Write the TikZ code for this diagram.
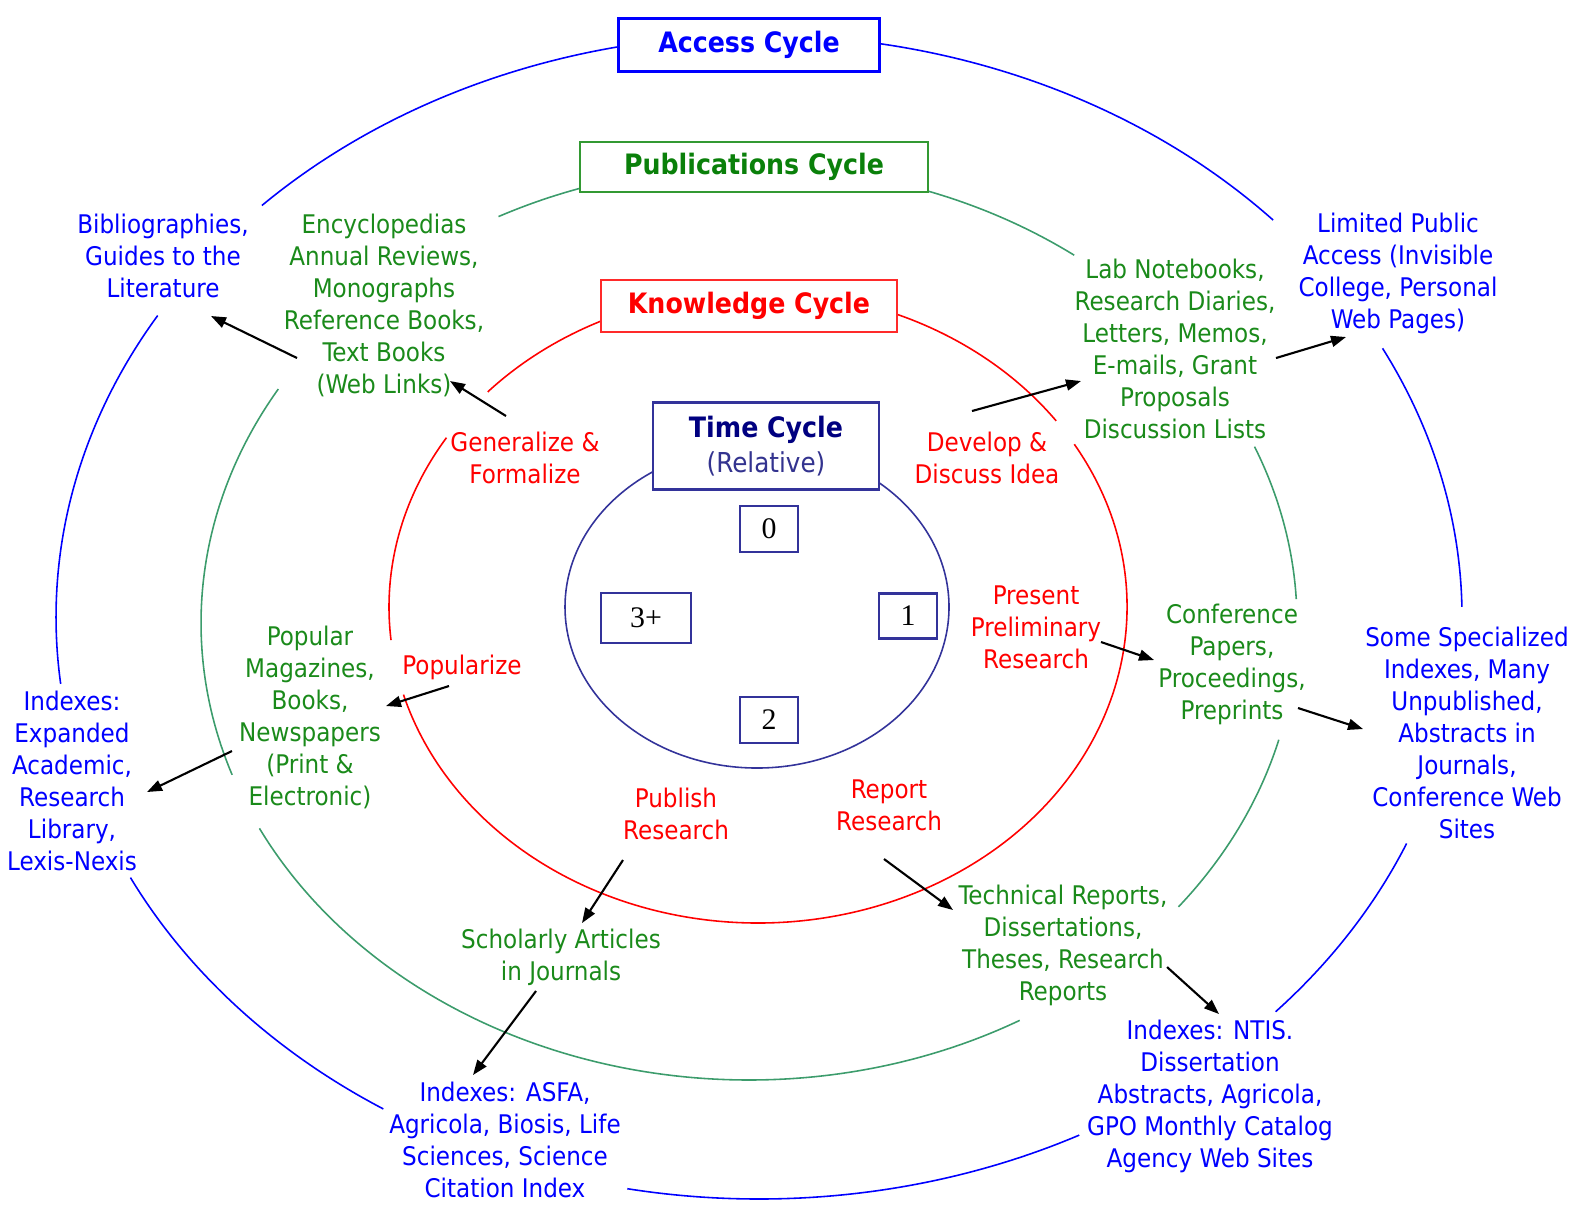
\documentclass[tikz,border=0pt]{standalone}
\usepackage{fontspec}
\setmainfont{DejaVu Sans Condensed}
\newfontfamily\numfont{Liberation Serif}
\usetikzlibrary{arrows.meta}
\definecolor{accblue}{HTML}{0000FF}
\definecolor{pubgreen}{HTML}{1A8A1A}
\definecolor{pubhead}{HTML}{0A800A}
\definecolor{publine}{HTML}{3C9C6C}
\definecolor{pubbox}{HTML}{339933}
\definecolor{knowred}{HTML}{FF0000}
\definecolor{knowline}{HTML}{FF2A2A}
\definecolor{timenavy}{HTML}{000080}
\definecolor{timerel}{HTML}{33338F}
\definecolor{timeline}{HTML}{33339A}
\tikzset{
  ring/.style={line width=0.45pt},
  accring/.style={ring,draw=accblue},
  pubring/.style={ring,draw=publine},
  knowring/.style={ring,draw=knowred},
  timering/.style={ring,draw=timeline},
  cyclebox/.style={fill=white,line width=0.6pt,inner sep=0pt,font=\fontsize{8}{10}\bfseries},
  numbox/.style={draw=timeline,fill=white,line width=0.6pt,inner sep=0pt,font=\numfont\fontsize{8.5}{10}\selectfont},
  txt/.style={align=center,inner sep=1pt,font=\fontsize{7.3}{9.1}\selectfont},
  btxt/.style={txt,text=accblue},
  gtxt/.style={txt,text=pubgreen},
  rtxt/.style={txt,text=knowred},
  arr/.style={black,line width=0.6pt,-{Triangle[length=1.5mm,width=1.1mm]}},
}
\begin{document}
\begin{tikzpicture}[x=0.1mm,y=-0.1mm]
  \useasboundingbox (0,0) rectangle (1587,1204);
  % ---------- rings ----------
  \foreach \a/\b in {225/317,332.5/359,22.9/42.7,62.9/100.8,122.3/153.4,173.4/211.2}
    \draw[accring] (759,617) ++(\a:703 and 582) arc[start angle=\a,end angle=\b,x radius=703,y radius=582];
  \foreach \a/\b in {242.8/306.4,337.3/357,14.8/38.4,60.4/153.3,160.6/210.8}
    \draw[pubring] (749,623) ++(\a:548 and 457) arc[start angle=\a,end angle=\b,x radius=548,y radius=457];
  \foreach \a/\b in {222.9/323.9,329/523.9,174/212.4}
    \draw[knowring] (758,607) ++(\a:369 and 316) arc[start angle=\a,end angle=\b,x radius=369,y radius=316];
  \draw[timering] (757,607) ellipse[x radius=192,y radius=161];
  % ---------- cycle boxes ----------
  \node[cyclebox,draw=accblue,text=accblue,minimum width=26.1mm,minimum height=5.3mm] (acc) at (749,45) {Access Cycle};
  \node[cyclebox,draw=pubbox,text=pubhead,minimum width=34.8mm,minimum height=5.0mm] (pubc) at (754,167) {Publications Cycle};
  \node[cyclebox,draw=knowline,text=knowred,minimum width=29.6mm,minimum height=5.2mm] (know) at (749,306) {Knowledge Cycle};
  \node[cyclebox,draw=timeline,minimum width=22.6mm,minimum height=8.7mm,align=center,font=\fontsize{7.8}{10}\selectfont] (time) at (766,446)
    {\textcolor{timenavy}{\bfseries\fontsize{8}{10}\selectfont Time Cycle}\\\textcolor{timerel}{(Relative)}};
  \node[numbox,minimum width=5.8mm,minimum height=4.6mm] (t0) at (769,529) {0};
  \node[numbox,minimum width=9.0mm,minimum height=5.0mm] (t3) at (646,618) {3+};
  \node[numbox,minimum width=5.8mm,minimum height=4.5mm] (t1) at (908,616) {1};
  \node[numbox,minimum width=5.8mm,minimum height=4.6mm] (t2) at (769,720) {2};
  % ---------- access ----------
  \node[btxt] (bib) at (163,256) {Bibliographies,\\Guides to the\\Literature};
  \node[btxt] (lim) at (1398,273) {Limited Public\\Access (Invisible\\College, Personal\\Web Pages)};
  \node[btxt] (idxe) at (72,781) {Indexes:\\Expanded\\Academic,\\Research\\Library,\\Lexis-Nexis};
  \node[btxt] (spec) at (1467,733) {Some Specialized\\Indexes, Many\\Unpublished,\\Abstracts in\\Journals,\\Conference Web\\Sites};
  \node[btxt] (asfa) at (505,1140) {Indexes: ASFA,\\Agricola, Biosis, Life\\Sciences, Science\\Citation Index};
  \node[btxt] (ntis) at (1210,1096) {Indexes: NTIS.\\Dissertation\\Abstracts, Agricola,\\GPO Monthly Catalog\\Agency Web Sites};
  % ---------- publications ----------
  \node[gtxt] (enc) at (384,305) {Encyclopedias\\Annual Reviews,\\Monographs\\Reference Books,\\Text Books\\(Web Links)};
  \node[gtxt] (lab) at (1175,349) {Lab Notebooks,\\Research Diaries,\\Letters, Memos,\\E-mails, Grant\\Proposals\\Discussion Lists};
  \node[gtxt] (pop) at (310,717) {Popular\\Magazines,\\Books,\\Newspapers\\(Print \&\\Electronic)};
  \node[gtxt] (conf) at (1232,664) {Conference\\Papers,\\Proceedings,\\Preprints};
  \node[gtxt] (schol) at (561,957) {Scholarly Articles\\in Journals};
  \node[gtxt] (tech) at (1063,945) {Technical Reports,\\Dissertations,\\Theses, Research\\Reports};
  % ---------- knowledge ----------
  \node[rtxt] (gen) at (525,458) {Generalize \&\\Formalize};
  \node[rtxt] (dev) at (987,458) {Develop \&\\Discuss Idea};
  \node[rtxt] (popz) at (462,667) {Popularize};
  \node[rtxt] (pres) at (1036,627) {Present\\Preliminary\\Research};
  \node[rtxt] (pub) at (676,814) {Publish\\Research};
  \node[rtxt] (rep) at (889,805) {Report\\Research};
  % ---------- arrows ----------
  \draw[arr] ([shift={(-87,53)}]enc.center) -- ([shift={(48,60)}]bib.center);
  \draw[arr] ([shift={(-19,-42)}]gen.center) -- ([shift={(66,76)}]enc.center);
  \draw[arr] ([shift={(-15,-47)}]dev.center) -- ([shift={(-94,32)}]lab.center);
  \draw[arr] ([shift={(101,9)}]lab.center) -- ([shift={(-52,64)}]lim.center);
  \draw[arr] ([shift={(-13,19)}]popz.center) -- ([shift={(76,-11)}]pop.center);
  \draw[arr] ([shift={(-78,34)}]pop.center) -- ([shift={(75,11)}]idxe.center);
  \draw[arr] ([shift={(65,15)}]pres.center) -- ([shift={(-78,-4)}]conf.center);
  \draw[arr] ([shift={(66,44)}]conf.center) -- ([shift={(-104,-4)}]spec.center);
  \draw[arr] ([shift={(-53,46)}]pub.center) -- ([shift={(21,-34)}]schol.center);
  \draw[arr] ([shift={(-25,34)}]schol.center) -- ([shift={(-32,-65)}]asfa.center);
  \draw[arr] ([shift={(-5,54)}]rep.center) -- ([shift={(-110,-35)}]tech.center);
  \draw[arr] ([shift={(104,22)}]tech.center) -- ([shift={(9,-82)}]ntis.center);
\end{tikzpicture}
\end{document}
